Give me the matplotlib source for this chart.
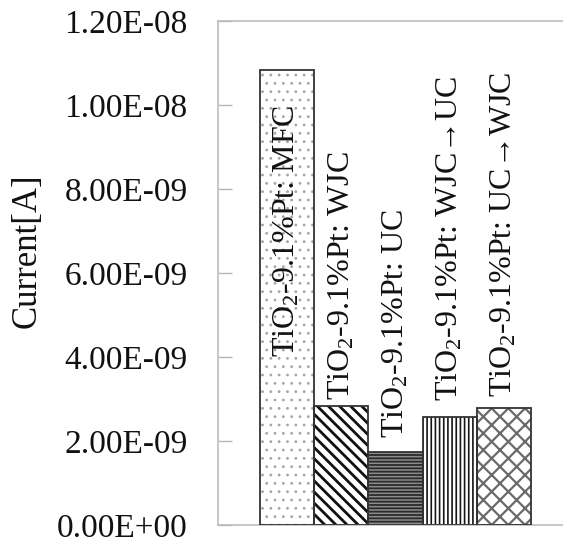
import matplotlib
matplotlib.use("Agg")
import matplotlib.pyplot as plt
import numpy as np

# Measured photocurrent for each TiO2-9.1%Pt preparation
categories = ["MFC", "WJC", "UC", "WJC\u2192UC", "UC\u2192WJC"]
current = [1.083e-8, 2.83e-9, 1.74e-9, 2.57e-9, 2.79e-9]
y_ticks = [0.0, 2e-9, 4e-9, 6e-9, 8e-9, 1e-8, 1.2e-8]
y_tick_labels = ["0.00E+00", "2.00E-09", "4.00E-09", "6.00E-09",
                 "8.00E-09", "1.00E-08", "1.20E-08"]

plt.rcParams["font.family"] = ["Liberation Serif", "DejaVu Serif"]
plt.rcParams["mathtext.fontset"] = "custom"
plt.rcParams["mathtext.rm"] = "Liberation Serif"
plt.rcParams["mathtext.it"] = "Liberation Serif:italic"

fig = plt.figure(figsize=(5.63, 5.43), dpi=100)
ax = fig.add_axes([0.3872, 0.0331, 0.6128, 0.9282])

# per-bar fill styles: (face, hatch, hatch colour, hatch line width)
styles = [
    ("white", "..", "#a5a5a5", 0.8),
    ("white", "\\\\\\", "#111111", 2.0),
    ("#8c8c8c", "-----", "#2a2a2a", 1.3),
    ("white", "||||", "#151515", 1.2),
    ("white", "xx", "#6a6a6a", 1.6),
]

x = np.arange(len(categories))
for xi, val, (face, hatch, hcol, hlw) in zip(x, current, styles):
    with plt.rc_context({"hatch.linewidth": hlw}):
        ax.bar(xi, val, width=1.0, color=face, edgecolor=hcol,
               hatch=hatch, linewidth=0, zorder=2)
    ax.bar(xi, val, width=1.0, fill=False, edgecolor="#333333",
           linewidth=1.3, zorder=3)

# rotated sample names above / inside the bars
label_base = [4.0e-9, 2.98e-9, 2.08e-9, 2.96e-9, 3.04e-9]
for xi, name, yb in zip(x, categories, label_base):
    ax.text(xi, yb, "TiO$_2$-9.1%Pt: " + name, rotation=90,
            ha="center", va="bottom", fontsize=23, color="#111111",
            zorder=4)

ax.set_xlim(-1.275, 5.09)
ax.set_ylim(0, 1.2e-8)
ax.set_xticks([])
ax.set_yticks(y_ticks)
ax.set_yticklabels(y_tick_labels, fontsize=24, color="#111111")
ax.tick_params(axis="y", direction="in", length=10, width=1,
               color="#b5b5b5", pad=22)

ax.set_ylabel("Current[A]", fontsize=25, color="#111111")
ax.yaxis.set_label_coords(-0.504, 0.544)

ax.spines["right"].set_visible(False)
for side in ("left", "top", "bottom"):
    ax.spines[side].set_color("#bdbdbd")
    ax.spines[side].set_linewidth(1.2)

fig.savefig("out.png", dpi=100)
